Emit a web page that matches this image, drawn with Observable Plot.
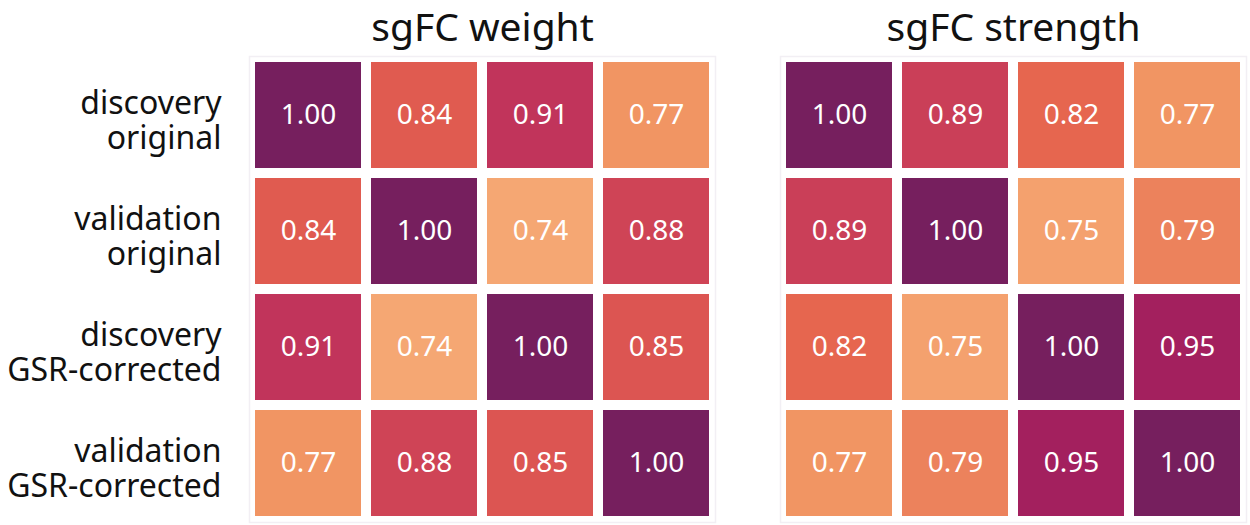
<!DOCTYPE html>
<html><head><meta charset="utf-8">
<script src="https://cdn.jsdelivr.net/npm/d3@7"></script>
<script src="https://cdn.jsdelivr.net/npm/@observablehq/plot@0.6"></script>
<style>
body{margin:0;background:#fff;}
svg{font-family:"Noto Sans",sans-serif;}
</style></head>
<body><div id="chart"></div>
<script>
const panels = ["sgFC weight", "sgFC strength"];
const rowLabels = ["discovery\noriginal", "validation\noriginal", "discovery\nGSR-corrected", "validation\nGSR-corrected"];
const colKeys = ["c1", "c2", "c3", "c4"];
const weightValues = [
  [1.00, 0.84, 0.91, 0.77],
  [0.84, 1.00, 0.74, 0.88],
  [0.91, 0.74, 1.00, 0.85],
  [0.77, 0.88, 0.85, 1.00]
];
const strengthValues = [
  [1.00, 0.89, 0.82, 0.77],
  [0.89, 1.00, 0.75, 0.79],
  [0.82, 0.75, 1.00, 0.95],
  [0.77, 0.79, 0.95, 1.00]
];
const colorStops = [0.74, 0.77, 0.79, 0.82, 0.84, 0.88, 0.91, 0.95, 1.00];
const colorRange = ["#f5a773", "#f19563", "#ec825c", "#e6664f", "#e05b50", "#cf4456", "#c1345b", "#a3205e", "#761f5e"];

const data = [];
[weightValues, strengthValues].forEach((m, p) => {
  m.forEach((row, i) => row.forEach((v, j) => {
    data.push({panel: panels[p], row: rowLabels[i], col: colKeys[j], value: v});
  }));
});

const chart = Plot.plot({
  width: 1250, height: 525,
  marginLeft: 248, marginRight: 3, marginTop: 56, marginBottom: 3,
  fx: {domain: panels, paddingInner: 0.122, paddingOuter: 0, label: null},
  x: {type: "band", domain: colKeys, padding: 0, axis: null},
  y: {type: "band", domain: rowLabels, padding: 0, label: null},
  color: {type: "linear", domain: colorStops, range: colorRange},
  marks: [
    Plot.frame({stroke: "#f2eff4", strokeWidth: 1.5}),
    Plot.cell(data, {fx: "panel", x: "col", y: "row", fill: "value", inset: 5}),
    Plot.text(data, {fx: "panel", x: "col", y: "row", text: d => d.value.toFixed(2), fill: "white", fontSize: 28}),
    Plot.axisFx({anchor: "top", tickSize: 0, tickPadding: 16, fontSize: 39, label: null, fill: "#111"}),
    Plot.axisY({tickSize: 0, tickPadding: 28, fontSize: 32, lineHeight: 1.1, dy: 5, label: null, fill: "#111"})
  ]
});
document.getElementById("chart").appendChild(chart);
</script>
</body></html>
